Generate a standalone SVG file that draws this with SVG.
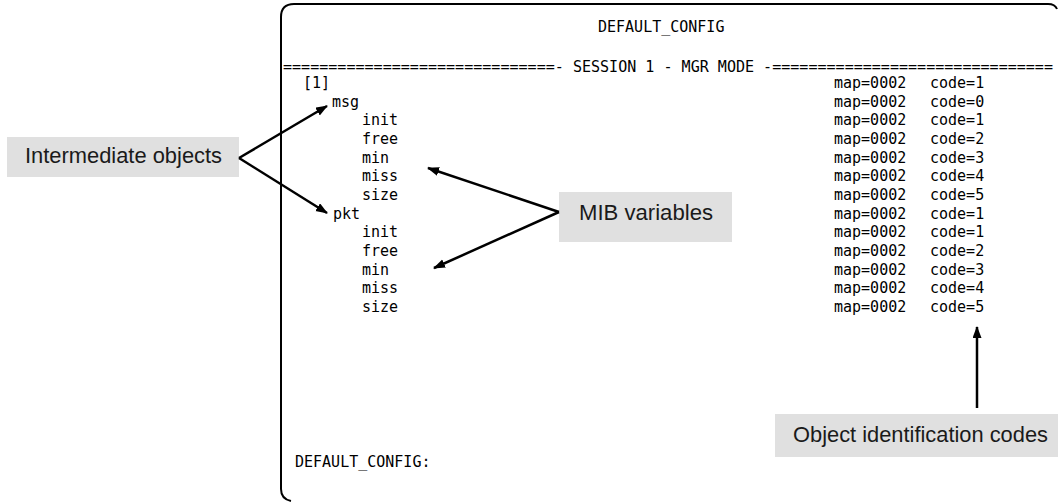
<svg xmlns="http://www.w3.org/2000/svg" width="1058" height="502" viewBox="0 0 1058 502">
<style>
.frame{fill:none;stroke:#000;stroke-width:2}
.term{font-family:"DejaVu Sans Mono","Liberation Mono",monospace;font-size:15px;fill:#000}
.box{fill:#e0e0e0}
.lbl{font-family:"Liberation Sans",Arial,sans-serif;font-size:22px;fill:#1a1a1a}
.conn{stroke:#000;stroke-width:2.5;fill:none;marker-end:url(#ah)}
</style>
<defs>
<marker id="ah" markerUnits="userSpaceOnUse" markerWidth="12" markerHeight="10" refX="11" refY="4.5" orient="auto">
<path d="M0,0 L12,4.5 L0,9 Z" fill="#000"/>
</marker>
</defs>
<g id="screen">
<path class="frame" d="M1057,9 Q1055,4 1048,4 L294,4 Q281,4 281,17 L281,489 Q281,499 291,501"/>
<text class="term" x="598" y="32">DEFAULT_CONFIG</text>
<text class="term" x="283" y="72" textLength="770" lengthAdjust="spacingAndGlyphs">==============================- SESSION 1 - MGR MODE -===============================</text>
<g id="left-col">
<text class="term" x="303" y="88">[1]</text>
<text class="term" x="332" y="106.5">msg</text>
<text class="term" x="362" y="125">init</text>
<text class="term" x="362" y="144">free</text>
<text class="term" x="362" y="162.5">min</text>
<text class="term" x="362" y="181">miss</text>
<text class="term" x="362" y="200">size</text>
<text class="term" x="333" y="218.5">pkt</text>
<text class="term" x="362" y="237">init</text>
<text class="term" x="362" y="256">free</text>
<text class="term" x="362" y="274.5">min</text>
<text class="term" x="362" y="293">miss</text>
<text class="term" x="362" y="312">size</text>
</g>
<g id="right-col">
<text class="term" x="834" y="88">map=0002</text><text class="term" x="930" y="88">code=1</text>
<text class="term" x="834" y="106.5">map=0002</text><text class="term" x="930" y="106.5">code=0</text>
<text class="term" x="834" y="125">map=0002</text><text class="term" x="930" y="125">code=1</text>
<text class="term" x="834" y="144">map=0002</text><text class="term" x="930" y="144">code=2</text>
<text class="term" x="834" y="162.5">map=0002</text><text class="term" x="930" y="162.5">code=3</text>
<text class="term" x="834" y="181">map=0002</text><text class="term" x="930" y="181">code=4</text>
<text class="term" x="834" y="200">map=0002</text><text class="term" x="930" y="200">code=5</text>
<text class="term" x="834" y="218.5">map=0002</text><text class="term" x="930" y="218.5">code=1</text>
<text class="term" x="834" y="237">map=0002</text><text class="term" x="930" y="237">code=1</text>
<text class="term" x="834" y="256">map=0002</text><text class="term" x="930" y="256">code=2</text>
<text class="term" x="834" y="274.5">map=0002</text><text class="term" x="930" y="274.5">code=3</text>
<text class="term" x="834" y="293">map=0002</text><text class="term" x="930" y="293">code=4</text>
<text class="term" x="834" y="312">map=0002</text><text class="term" x="930" y="312">code=5</text>
</g>
<text class="term" x="295" y="467">DEFAULT_CONFIG:</text>
</g>
<g id="label-intermediate">
<rect class="box" x="7" y="137" width="232" height="40"/>
<text class="lbl" x="25" y="163" textLength="197" lengthAdjust="spacingAndGlyphs">Intermediate objects</text>
</g>
<g id="label-mib">
<rect class="box" x="559" y="192" width="173" height="50"/>
<text class="lbl" x="579" y="220" textLength="134" lengthAdjust="spacingAndGlyphs">MIB variables</text>
</g>
<g id="label-codes">
<rect class="box" x="775" y="414" width="283" height="43"/>
<text class="lbl" x="793" y="442" textLength="255" lengthAdjust="spacingAndGlyphs">Object identification codes</text>
</g>
<g id="connectors">
<line class="conn" x1="239" y1="158" x2="327" y2="106"/>
<line class="conn" x1="239" y1="158" x2="327" y2="213"/>
<line class="conn" x1="559" y1="212" x2="428" y2="168"/>
<line class="conn" x1="559" y1="212" x2="434" y2="268"/>
<line class="conn" x1="977" y1="408" x2="977" y2="327"/>
</g>
</svg>
